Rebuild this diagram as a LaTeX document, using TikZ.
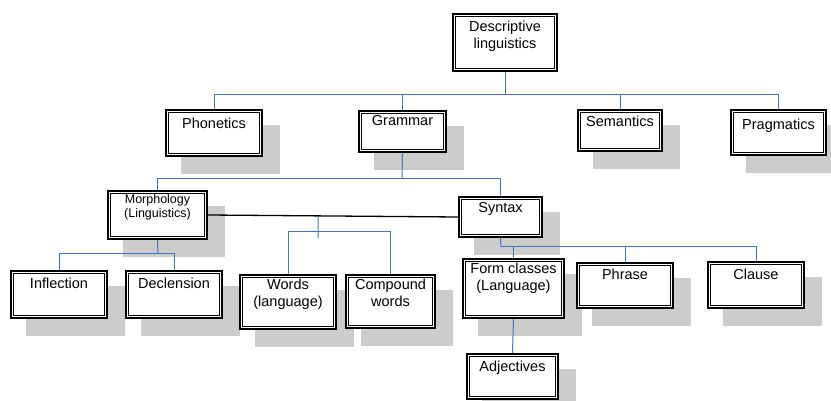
\documentclass[tikz,border=0pt]{standalone}
\usepackage{fontspec}
\setmainfont{Liberation Sans}
\definecolor{connblue}{RGB}{68,114,196}
\definecolor{shadowgray}{RGB}{204,204,204}
\pgfdeclarelayer{bglayer}
\pgfdeclarelayer{shadowlayer}
\pgfdeclarelayer{linelayer}
\pgfsetlayers{bglayer,shadowlayer,linelayer,main}
\tikzset{
  boxst/.style={draw=black, line width=1.8pt, fill=white, inner sep=0pt},
  innerline/.style={draw=black, line width=0.9pt},
  lbl/.style={inner sep=0pt, align=center, font=\fontsize{14.5}{16.5}\selectfont},
  smalllbl/.style={font=\fontsize{12.5}{14.5}\selectfont},
  conn/.style={draw=connblue, line width=1pt},
  blackconn/.style={draw=black, line width=1.3pt},
  shadowfill/.style={fill=shadowgray}
}
% #1 text options, #2 name, #3 x1, #4 y1, #5 x2, #6 y2, #7 text drop, #8 text
\newcommand\dlframe[8][]{%
  \node[boxst, minimum width={#5-#3-1.8}, minimum height={#6-#4-1.8}] (#2) at ({(#3+#5)/2},{(#4+#6)/2}) {};
  \draw[innerline] ([xshift=3.3pt,yshift=-3.3pt]#2.north west) rectangle ([xshift=-3.3pt,yshift=3.3pt]#2.south east);
  \node[lbl, anchor=north, #1] (#2-t) at ([yshift=-#7pt]#2.north) {#8};
}
\newcommand\dlshadow[1]{%
  \begin{pgfonlayer}{shadowlayer}
    \fill[shadowfill] ([xshift=16pt,yshift=-16pt]#1.north west) rectangle ([xshift=17pt,yshift=-17pt]#1.south east);
  \end{pgfonlayer}
}
\begin{document}
\begin{tikzpicture}[x=1pt,y=-1pt]
\clip (0,0) rectangle (831,401);
\begin{pgfonlayer}{bglayer}
\fill[white] (0,0) rectangle (831,401);
\end{pgfonlayer}

\dlframe{root}{452}{13}{558}{72}{8}{Descriptive\\linguistics}
\dlframe{phon}{165}{109}{263}{157}{8.5}{Phonetics}\dlshadow{phon}
\dlframe{gram}{358}{110}{447}{153}{5}{Grammar}\dlshadow{gram}
\dlframe{sem}{577}{109}{663}{152}{7}{Semantics}\dlshadow{sem}
\dlframe{prag}{730}{109}{827}{156}{10}{Pragmatics}\dlshadow{prag}
\dlframe[smalllbl]{morph}{107}{190}{208}{240}{4}{Morphology\\(Linguistics)}\dlshadow{morph}
\dlframe{syn}{458}{196}{543}{238}{6}{Syntax}\dlshadow{syn}
\dlframe{infl}{10}{270}{108}{319}{8}{Inflection}\dlshadow{infl}
\dlframe{decl}{125}{270}{223}{319}{8}{Declension}\dlshadow{decl}
\dlframe{words}{239}{274}{337}{330}{5}{Words\\(language)}\dlshadow{words}
\dlframe{comp}{345}{274}{436}{329}{5}{Compound\\words}\dlshadow{comp}
\dlframe{form}{462}{258}{565}{319}{5}{Form classes\\(Language)}\dlshadow{form}
\dlframe{phr}{576}{262}{674}{309}{7}{Phrase}\dlshadow{phr}
\dlframe{cla}{707}{261}{805}{309}{8}{Clause}\dlshadow{cla}
\dlframe{adj}{466}{353}{559}{400}{8}{Adjectives}\dlshadow{adj}

\coordinate (bus1) at (505,95);
\coordinate (bus2) at (402,179);
\coordinate (bus3) at (158,254);
\coordinate (bus4) at (501,247);
\coordinate (tj) at (318,232);
\coordinate (tbot) at (318,238);

\begin{pgfonlayer}{linelayer}
  \draw[conn] (root.south) -- (bus1);
  \draw[conn] (bus1) -| (phon.north);
  \draw[conn] (bus1) -| (gram.north);
  \draw[conn] (bus1) -| (sem.north);
  \draw[conn] (bus1) -| (prag.north);
  \draw[conn] (gram.south) -- (bus2);
  \draw[conn] (bus2) -| (morph.north);
  \draw[conn] (bus2) -| (syn.north);
  \draw[conn] (morph.south) -- (bus3);
  \draw[conn] (bus3) -| (infl.north);
  \draw[conn] (bus3) -| (decl.north);
  \draw[blackconn] (morph.east) -- coordinate[pos=0.44] (ttop) (syn.west);
  \draw[conn] (ttop) -- (tbot);
  \draw[conn] (tj) -| (words.north);
  \draw[conn] (tj) -| (comp.north);
  \draw[conn] (syn.south) -- (bus4);
  \draw[conn] (bus4) -| (form.north);
  \draw[conn] (bus4) -| (phr.north);
  \draw[conn] (bus4) -| (cla.north);
  \draw[conn] (form.south) -- (adj.north);
\end{pgfonlayer}
\end{tikzpicture}
\end{document}
